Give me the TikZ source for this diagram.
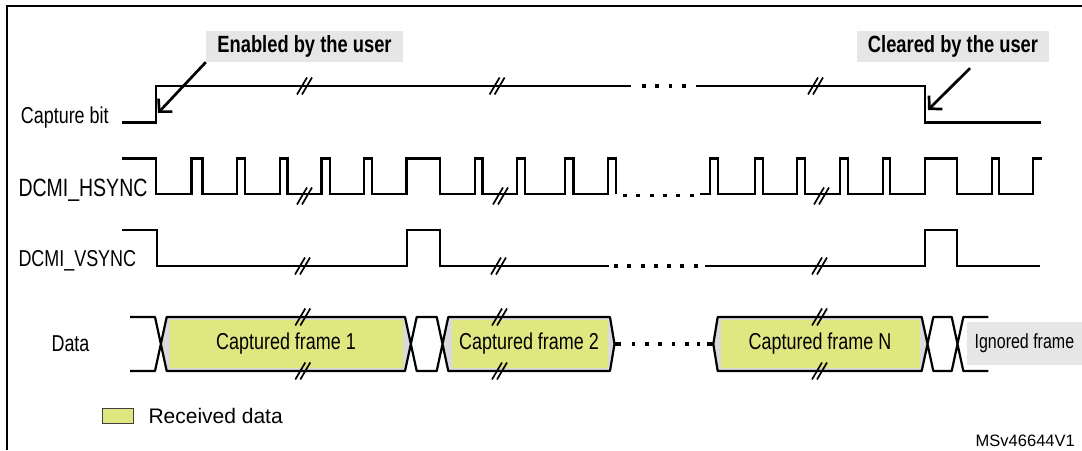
\documentclass[tikz,border=0pt]{standalone}
\usepackage{fontspec}
\setmainfont{Liberation Sans}
\newfontfamily\narrowfont[FakeStretch=0.78]{Liberation Sans}
\usetikzlibrary{arrows.meta}

\definecolor{rxgreen}{RGB}{223,231,128}
\definecolor{notegray}{RGB}{230,230,230}
\definecolor{edgegray}{RGB}{218,218,218}

\newcommand{\nfont}[1]{\narrowfont\fontsize{#1}{#1}\selectfont}
% break mark "//" centred on (#1,#2)
\newcommand{\brk}[2]{\draw[brkline] (#1-8,#2+8.5) -- (#1+2,#2-8.5) (#1-3,#2+8.5) -- (#1+7,#2-8.5);}
% row of square dots at height #1
\newcommand{\dotrow}[2]{\foreach \x in {#2} \fill (\x-1.8,#1-1.8) rectangle +(3.6,3.6);}
% frame fill: left, left point, right, right point
\newcommand{\frfill}[4]{\fill[edgegray] (#1,317) -- (#3,317) -- (#4,344) -- (#3,371) -- (#1,371) -- (#2,344) -- cycle;
  \fill[rxgreen] (#1+3.3,320) rectangle (#3-1.7,368.3);}

\begin{document}
\begin{tikzpicture}[x=1pt,y=-1pt]
	\tikzstyle{wave}=[line width=2.2pt]
	\tikzstyle{bus}=[line width=2.2pt,line join=round]
	\tikzstyle{brkline}=[line width=1.7pt]
	\tikzstyle{pointer}=[line width=2.7pt,-{Straight Barb[length=9pt,width=19pt]}]
	\tikzstyle{sig}=[inner sep=0pt,anchor=base west]
	\tikzstyle{note}=[fill=notegray,inner sep=0pt,minimum height=31pt,font={\nfont{23.5}\bfseries}]
	\tikzstyle{frtext}=[inner sep=0pt,font={\nfont{23}}]
	
	\useasboundingbox (0,0) rectangle (1082,450);
	\draw[line width=2.2pt] (7,450) -- (7,6) -- (1082,6);
	
	% signal names
	\node[sig,font={\nfont{23}}] (capl) at (20.7,123.3) {Capture bit};
	\node[sig,font={\nfont{25}}] (hsl) at (18.3,196) {DCMI\_HSYNC};
	\node[sig,font={\nfont{23}}] (vsl) at (18.3,266.7) {DCMI\_VSYNC};
	\node[inner sep=0pt,font={\nfont{23}}] (datal) at (70.5,344) {Data};
	
	% capture bit
	\draw[wave] (122,122.5) -- (156,122.5) -- (156,86) -- (631,86);
	\draw[wave] (696,86) -- (925,86) -- (925,122.5) -- (1041,122.5);
	\dotrow{86}{644,657,670.5,684}
	\brk{305}{86} \brk{497.6}{86} \brk{816}{86}
	
	\node[note,minimum width=197pt] (enab) at (304.5,46.5) {Enabled by the user};
	\node[note,minimum width=192pt] (clr) at (953,46.5) {Cleared by the user};
	\coordinate (capon) at (158,113);
	\coordinate (capoff) at (928,110);
	\draw[pointer] (enab.south west) -- (capon);
	\draw[pointer] ([shift={(17,6)}]clr.south) -- (capoff);
	
	% hsync
	\draw[wave] (122,158.5) -- (156,158.5) -- (156,194)
		\foreach \r/\f in {191.5/202.5,237/245,280/287.5,321.5/330,364/372,406.5/440,475/482.5,517/525,565/573.5,608/616}
		{ -- (\r,194) -- (\r,158.5) -- (\f,158.5) -- (\f,194) };
	\draw[wave] (700,194)
		\foreach \r/\f in {710/718,755/763,797/805,840/848,883/890,925/957,992/999}
		{ -- (\r,194) -- (\r,158.5) -- (\f,158.5) -- (\f,194) } -- (1033,194) -- (1033,158.5) -- (1042,158.5);
	\dotrow{195.5}{625,638,652,665,678,692}
	\brk{305}{196} \brk{501}{196} \brk{822}{196}
	
	% vsync
	\draw[wave] (122,230) -- (157,230) -- (157,266) -- (407,266) -- (407,230) -- (440,230) -- (440,266) -- (609,266);
	\draw[wave] (705,266) -- (925,266) -- (925,230) -- (957,230) -- (957,266) -- (1040,266);
	\dotrow{266}{616,629,643,656,669,682,696}
	\brk{303}{266} \brk{499}{266} \brk{820}{266}
	
	% data
	\frfill{166.7}{160.8}{405}{410.8}
	\frfill{448.3}{442.5}{610}{614.5}
	\frfill{717.7}{713.3}{921.7}{927.5}
	\node[frtext,fill=notegray,minimum width=115.3pt,minimum height=43.3pt,font={\nfont{20.5}}] (ign) at (1024.4,343.3) {Ignored frame};
	\draw[bus] (130,317) -- (155,317) -- (166.7,371) -- (405,371) -- (416.7,317) -- (436.7,317) -- (448.3,371) -- (610,371) -- (614.5,344)
		-- (610,317) -- (448.3,317) -- (436.7,371) -- (416.7,371) -- (405,317) -- (166.7,317) -- (155,371) -- (130,371);
	\draw[bus] (988.3,317) -- (963.3,317) -- (951.7,371) -- (933.3,371) -- (921.7,317) -- (717.7,317) -- (713.3,344) -- (717.7,371)
		-- (921.7,371) -- (933.3,317) -- (951.7,317) -- (963.3,371) -- (988.3,371);
	\draw[line width=3.6pt] (614.5,344) -- (621,344) (707,344) -- (713.3,344);
	\dotrow{344}{633.3,646.7,660,673.3,686.7,698.3}
	\brk{303.3}{317} \brk{303.3}{371} \brk{500}{317} \brk{500}{371} \brk{820}{317} \brk{820}{371}
	\node[frtext] (fr1) at (286,344) {Captured frame 1};
	\node[frtext] (fr2) at (529,344) {Captured frame 2};
	\node[frtext] (frn) at (820,344) {Captured frame N};
	
	% legend
	\node[draw=black!75,line width=1pt,fill=rxgreen,inner sep=0pt,minimum width=31pt,minimum height=15pt] (legbox) at (117.5,415.8) {};
	\node[sig,font=\fontsize{21}{21}\selectfont] (legtxt) at (148.3,423.3) {Received data};
	\node[inner sep=0pt,anchor=base east,font=\fontsize{16.5}{16.5}\selectfont] (msv) at (1075,446) {MSv46644V1};
\end{tikzpicture}
\end{document}
